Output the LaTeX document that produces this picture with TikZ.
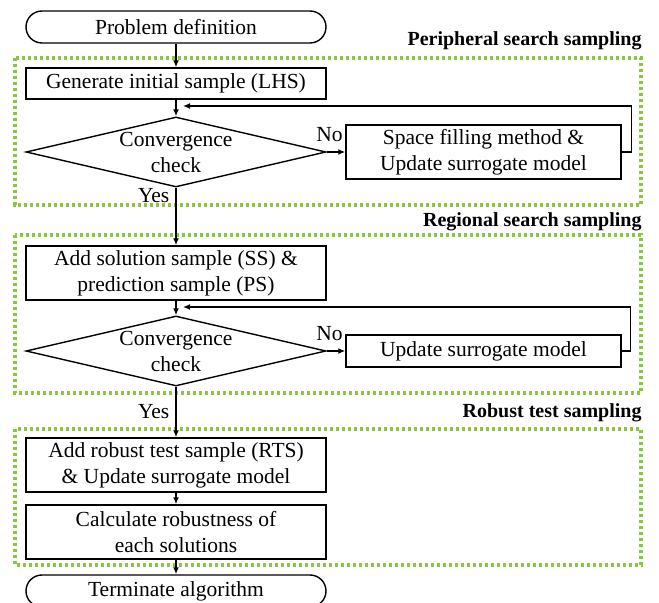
\documentclass[tikz,border=0pt]{standalone}
\usepackage{fontspec}
\setmainfont{Liberation Serif}
\usetikzlibrary{shapes.geometric,arrows.meta}

\definecolor{zonevert}{RGB}{135,200,60}
\newcommand{\zone}[7]{%
			{\draw[zonevert, line width=1.8pt, dash pattern=on 1.6pt off 1.4pt]
					(#2,#3) rectangle (#4,#5);
					\node[anchor=base east, inner sep=0pt, font=\bfseries] (#1) at (#4+1,#3-#6) {#7};}%
		}

\tikzset{
	boite/.style={draw, line width=0.7pt, minimum width=150pt, align=center, inner sep=0pt},
	terminal/.style={boite, rounded corners=8pt, minimum height=16pt},
	losange/.style={draw, diamond, line width=0.7pt, minimum width=150pt, minimum height=35pt, inner sep=0pt},
	fleche/.style={line width=0.7pt, -{Latex[length=3.5pt,width=3pt]}}
}

\begin{document}
\begin{tikzpicture}[x={(0.5pt,0pt)}, y={(0pt,-0.5pt)}, font=\fontsize{10.75}{13}\selectfont]
			\useasboundingbox (0,0) rectangle (659,603);
			% zones
			\zone{peri}{15}{58}{641}{205}{12}{Peripheral search sampling}
			\zone{regi}{15}{235}{641}{393}{8}{Regional search sampling}
			\zone{robu}{15}{429}{641}{565}{11}{Robust test sampling}
			% blocs
			\node[terminal] (debut) at (176,27) {Problem definition};
			\node[boite, minimum height=15.5pt] (lhs) at (176,83.5) {Generate initial sample (LHS)};
			\node[losange, label={[align=center]center:Convergence\\check}] (conv1) at (176,152) {};
			\node[boite, minimum width=137.5pt, minimum height=27pt] (remp) at (483.5,152) {Space filling method \&\\Update surrogate model};
			\node[boite, minimum height=27pt] (sol) at (176,273) {Add solution sample (SS) \&\\prediction sample (PS)};
			\node[losange, label={[align=center]center:Convergence\\check}] (conv2) at (176,351) {};
			\node[boite, minimum width=137.5pt, minimum height=16pt] (maj) at (483.5,351) {Update surrogate model};
			\node[boite, minimum height=27pt] (rts) at (176,465) {Add robust test sample (RTS)\\\& Update surrogate model};
			\node[boite, minimum height=27pt] (calc) at (176,532) {Calculate robustness of\\each solutions};
			\node[terminal] (fin) at (176,591) {Terminate algorithm};
			\coordinate (retour1) at (183,106);
			\coordinate (retour2) at (183,307);
			% fleches
			\draw[fleche] (debut) -- (lhs);
			\draw[fleche] (lhs) -- (conv1);
			\draw[fleche] (conv1) -- node[pos=1, anchor=south east, inner sep=1pt, yshift=4pt] (non1) {No} (remp);
			\draw[fleche] (remp.east) -- ++(10,0) |- (retour1);
			\draw[fleche] (conv1) -- node[pos=0, anchor=north east, inner sep=0pt, xshift=-3pt] (oui1) {Yes} (sol);
			\draw[fleche] (sol) -- (conv2);
			\draw[fleche] (conv2) -- node[pos=1, anchor=south east, inner sep=1pt, yshift=4pt] (non2) {No} (maj);
			\draw[fleche] (maj.east) -- ++(9,0) |- (retour2);
			\draw[fleche] (conv2) -- node[pos=0.5, anchor=east, inner sep=0pt, xshift=-3pt] (oui2) {Yes} (rts);
			\draw[fleche] (rts) -- (calc);
			\draw[fleche] (calc) -- (fin);
		\end{tikzpicture}
\end{document}
